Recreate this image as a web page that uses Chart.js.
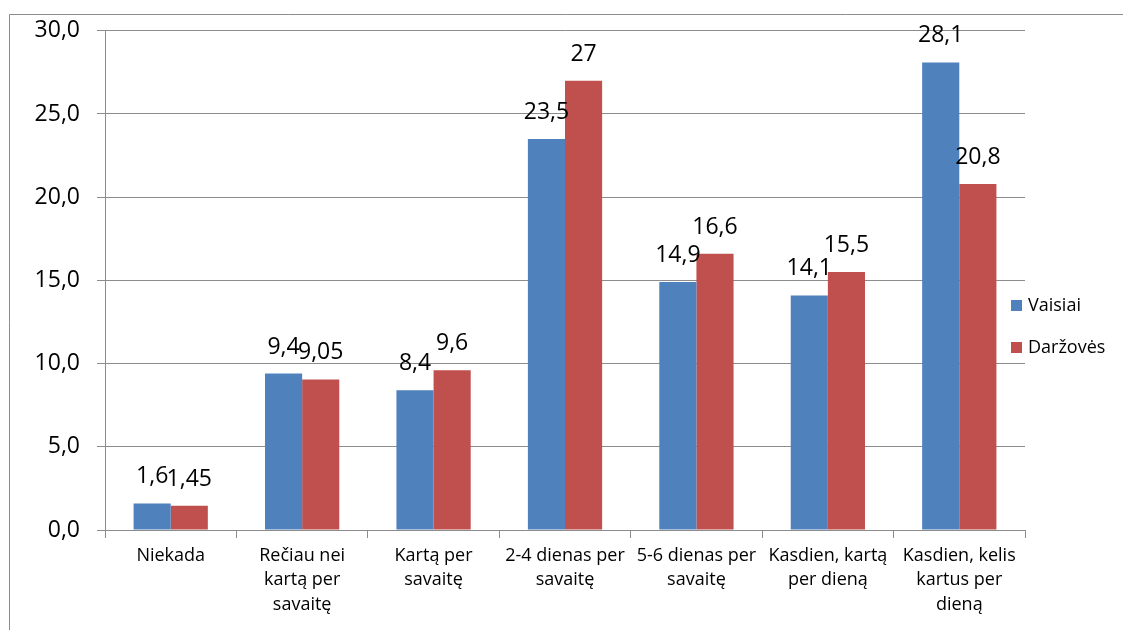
<!DOCTYPE html>
<html>
<head>
<meta charset="utf-8">
<script src="https://cdn.jsdelivr.net/npm/chart.js@4/dist/chart.umd.min.js"></script>
<style>
  html, body { margin: 0; padding: 0; background: #fff; }
  #wrap { width: 1123px; height: 630px; position: relative; }
</style>
</head>
<body>
<div id="wrap"><canvas id="chart"></canvas></div>
<script>
// --- Data ---
const categories = [
  'Niekada',
  ['Rečiau nei', 'kartą per', 'savaitę'],
  ['Kartą per', 'savaitę'],
  ['2-4 dienas per', 'savaitę'],
  ['5-6 dienas per', 'savaitę'],
  ['Kasdien, kartą', 'per dieną'],
  ['Kasdien, kelis', 'kartus per', 'dieną']
];
const seriesNames = ['Vaisiai', 'Daržovės'];
const vaisiai = [1.6, 9.4, 8.4, 23.5, 14.9, 14.1, 28.1];
const darzoves = [1.45, 9.05, 9.6, 27, 16.6, 15.5, 20.8];
const vaisiaiLabels = ['1,6', '9,4', '8,4', '23,5', '14,9', '14,1', '28,1'];
const darzovesLabels = ['1,45', '9,05', '9,6', '27', '16,6', '15,5', '20,8'];
const yTicks = [0, 5, 10, 15, 20, 25, 30];

const colors = ['#4F81BD', '#C0504D'];
const gridColor = '#8C8C8C';
const fontFamily = '"Open Sans", "Noto Sans", sans-serif';

// --- Plugins ---
const frame = {
  id: 'frame',
  beforeDraw(chart) {
    const c = chart.ctx;
    c.save();
    c.strokeStyle = '#8C8C8C';
    c.lineWidth = 1;
    c.beginPath();
    c.moveTo(9.5, 640);
    c.lineTo(9.5, 14.5);
    c.lineTo(1130, 14.5);
    c.stroke();
    c.restore();
  }
};

const valueLabels = {
  id: 'valueLabels',
  afterDatasetsDraw(chart) {
    const c = chart.ctx;
    const allLabels = [vaisiaiLabels, darzovesLabels];
    c.save();
    c.fillStyle = '#000';
    c.font = '23px ' + fontFamily;
    c.textAlign = 'center';
    c.textBaseline = 'alphabetic';
    chart.data.datasets.forEach((ds, di) => {
      chart.getDatasetMeta(di).data.forEach((bar, i) => {
        c.fillText(allLabels[di][i], bar.x, bar.y - 20);
      });
    });
    c.restore();
  }
};

const sideLegend = {
  id: 'sideLegend',
  afterDraw(chart) {
    const c = chart.ctx;
    c.save();
    c.font = '18px ' + fontFamily;
    c.textBaseline = 'middle';
    c.textAlign = 'left';
    seriesNames.forEach((name, i) => {
      const y = 306 + i * 42;
      c.fillStyle = colors[i];
      c.fillRect(1011, y - 6, 11, 11);
      c.fillStyle = '#000';
      c.fillText(name, 1028, y);
    });
    c.restore();
  }
};

// --- Chart ---
const ctx = document.getElementById('chart').getContext('2d');
new Chart(ctx, {
  type: 'bar',
  data: {
    labels: categories,
    datasets: [
      { label: seriesNames[0], data: vaisiai, backgroundColor: colors[0] },
      { label: seriesNames[1], data: darzoves, backgroundColor: colors[1] }
    ]
  },
  options: {
    responsive: true,
    maintainAspectRatio: false,
    animation: false,
    datasets: { bar: { categoryPercentage: 0.565, barPercentage: 1 } },
    layout: { padding: { top: 30, right: 98, bottom: 0, left: 0 } },
    plugins: { legend: { display: false }, tooltip: { enabled: false } },
    scales: {
      x: {
        grid: { offset: true, drawOnChartArea: false, drawTicks: true, tickLength: 8, color: gridColor },
        border: { color: gridColor },
        ticks: {
          color: '#000',
          font: { family: fontFamily, size: 18, lineHeight: 1.38 },
          maxRotation: 0,
          minRotation: 0,
          autoSkip: false,
          padding: 5
        },
        afterFit(scale) { scale.height = 100; }
      },
      y: {
        min: 0,
        max: 30,
        afterBuildTicks(scale) { scale.ticks = yTicks.map(v => ({ value: v })); },
        grid: { color: gridColor, tickLength: 8 },
        border: { color: gridColor },
        ticks: {
          color: '#000',
          font: { family: fontFamily, size: 23 },
          padding: 17,
          callback: v => v.toFixed(1).replace('.', ',')
        },
        afterFit(scale) { scale.width = 105; }
      }
    }
  },
  plugins: [frame, valueLabels, sideLegend]
});
</script>
</body>
</html>
